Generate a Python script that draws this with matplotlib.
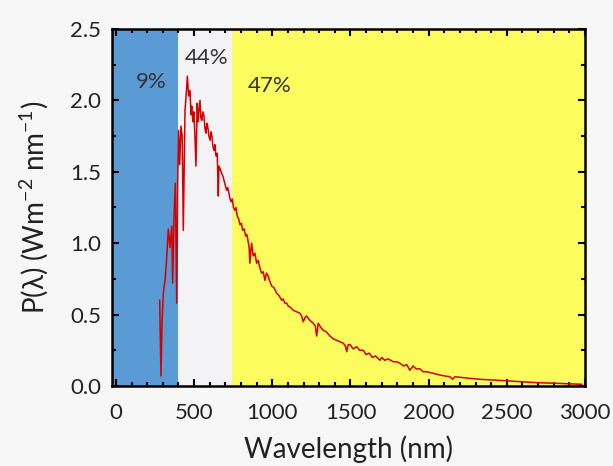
import numpy as np
import matplotlib
matplotlib.use("Agg")
import matplotlib.pyplot as plt
from matplotlib.ticker import MultipleLocator

wavelength = [280, 288, 295, 303, 315, 325, 335, 346, 357, 363, 371, 380, 389, 395,
              401, 408, 416, 424, 431, 442, 450, 457, 465, 474, 480, 485, 492, 498,
              504, 512, 520, 525, 531, 538, 543, 549, 556, 563, 570, 576, 582, 587,
              595, 602, 608, 614, 620, 627, 633, 640, 648, 655, 659, 667, 676, 684,
              691, 700, 708, 715, 723, 730, 736, 744, 752, 761, 768, 776, 785, 793,
              802, 811, 820, 830, 838, 847, 852, 857, 863, 868, 878, 889, 900, 910,
              920, 932, 942, 953, 963, 974, 985, 996, 1010, 1028, 1045, 1060, 1070,
              1081, 1092, 1102, 1118, 1134, 1155, 1177, 1188, 1198, 1210, 1220, 1240,
              1262, 1275, 1284, 1294, 1310, 1326, 1345, 1369, 1390, 1412, 1432, 1454,
              1468, 1476, 1486, 1497, 1518, 1540, 1560, 1582, 1600, 1620, 1640, 1660,
              1680, 1689, 1700, 1720, 1740, 1774, 1795, 1816, 1840, 1860, 1880, 1900,
              1920, 1944, 1965, 1987, 2030, 2072, 2105, 2136, 2153, 2168, 2250, 2328,
              2410, 2488, 2570, 2648, 2730, 2818, 2900, 2978]
power = [0.60, 0.07, 0.45, 0.65, 0.75, 0.90, 1.10, 0.97, 1.12, 0.72, 1.17, 1.42, 0.58, 1.42,
         1.79, 1.55, 1.82, 1.75, 1.09, 1.93, 2.05, 2.17, 2.03, 2.07, 1.90, 1.96, 1.85, 1.92,
         1.79, 1.54, 1.98, 1.85, 1.93, 2.00, 1.88, 1.86, 1.92, 1.89, 1.80, 1.77, 1.84, 1.82,
         1.75, 1.72, 1.78, 1.75, 1.68, 1.65, 1.69, 1.61, 1.63, 1.33, 1.54, 1.52, 1.49, 1.47,
         1.44, 1.40, 1.37, 1.39, 1.35, 1.31, 1.29, 1.31, 1.25, 1.23, 1.25, 1.19, 1.17, 1.13,
         1.14, 1.09, 1.10, 1.05, 1.06, 1.00, 0.97, 0.86, 0.95, 1.00, 0.91, 0.93, 0.86, 0.88,
         0.83, 0.79, 0.80, 0.74, 0.79, 0.77, 0.73, 0.70, 0.69, 0.65, 0.63, 0.60, 0.61,
         0.58, 0.58, 0.56, 0.55, 0.53, 0.52, 0.51, 0.49, 0.45, 0.48, 0.49, 0.46,
         0.44, 0.42, 0.35, 0.44, 0.41, 0.39, 0.38, 0.35, 0.33, 0.32, 0.31, 0.30,
         0.28, 0.24, 0.29, 0.29, 0.26, 0.275, 0.25, 0.25, 0.22, 0.23, 0.20, 0.21,
         0.19, 0.18, 0.20, 0.18, 0.19, 0.17, 0.17, 0.16, 0.14, 0.15, 0.11, 0.14,
         0.12, 0.12, 0.10, 0.10, 0.088, 0.077, 0.07, 0.065, 0.047, 0.065, 0.055, 0.047,
         0.042, 0.037, 0.031, 0.026, 0.022, 0.019, 0.015, 0.012]

# spectral bands (nm) and their share of the total
band_edges = [-25, 400, 740, 3000]
band_colors = ["#5b9bd5", "#f3f3f5", "#fdfc5f"]
band_labels = ["9%", "44%", "47%"]
label_pos = [(228, 2.13), (580, 2.30), (985, 2.10)]

plt.rcParams["font.family"] = ["Lato", "DejaVu Sans"]
plt.rcParams["mathtext.default"] = "regular"

fig = plt.figure(figsize=(6.13, 4.66), dpi=100)
fig.patch.set_facecolor("#f7f7f7")
ax = fig.add_axes([112 / 613, 1 - 386 / 466, 473 / 613, 357 / 466])

for i in range(3):
    ax.axvspan(band_edges[i], band_edges[i + 1], color=band_colors[i], lw=0, zorder=0)
    ax.text(label_pos[i][0], label_pos[i][1], band_labels[i], ha="center", va="center",
            fontsize=16, color="#333333")

ax.plot(wavelength, power, color="#d40000", lw=1.1, zorder=2)

ax.set_xlim(-25, 3000)
ax.set_ylim(0, 2.5)
ax.xaxis.set_major_locator(MultipleLocator(500))
ax.xaxis.set_minor_locator(MultipleLocator(100))
ax.yaxis.set_major_locator(MultipleLocator(0.5))
ax.yaxis.set_minor_locator(MultipleLocator(0.25))
ax.yaxis.set_major_formatter(matplotlib.ticker.FormatStrFormatter("%.1f"))
ax.tick_params(which="both", direction="in", top=True, right=True, width=1.5,
               labelsize=16, colors="black", labelcolor="#222222")
ax.tick_params(which="major", length=5, pad=8)
ax.tick_params(axis="x", which="major", pad=12)
ax.tick_params(which="minor", length=3)
for s in ax.spines.values():
    s.set_linewidth(1.8)

ax.set_xlabel("Wavelength (nm)", fontsize=20, color="#222222", labelpad=9)
ax.set_ylabel("P(\u03bb) (Wm$^{-2}$ nm$^{-1}$)", fontsize=20, color="#222222", labelpad=14)

fig.savefig("out.png", dpi=100, facecolor=fig.get_facecolor())
